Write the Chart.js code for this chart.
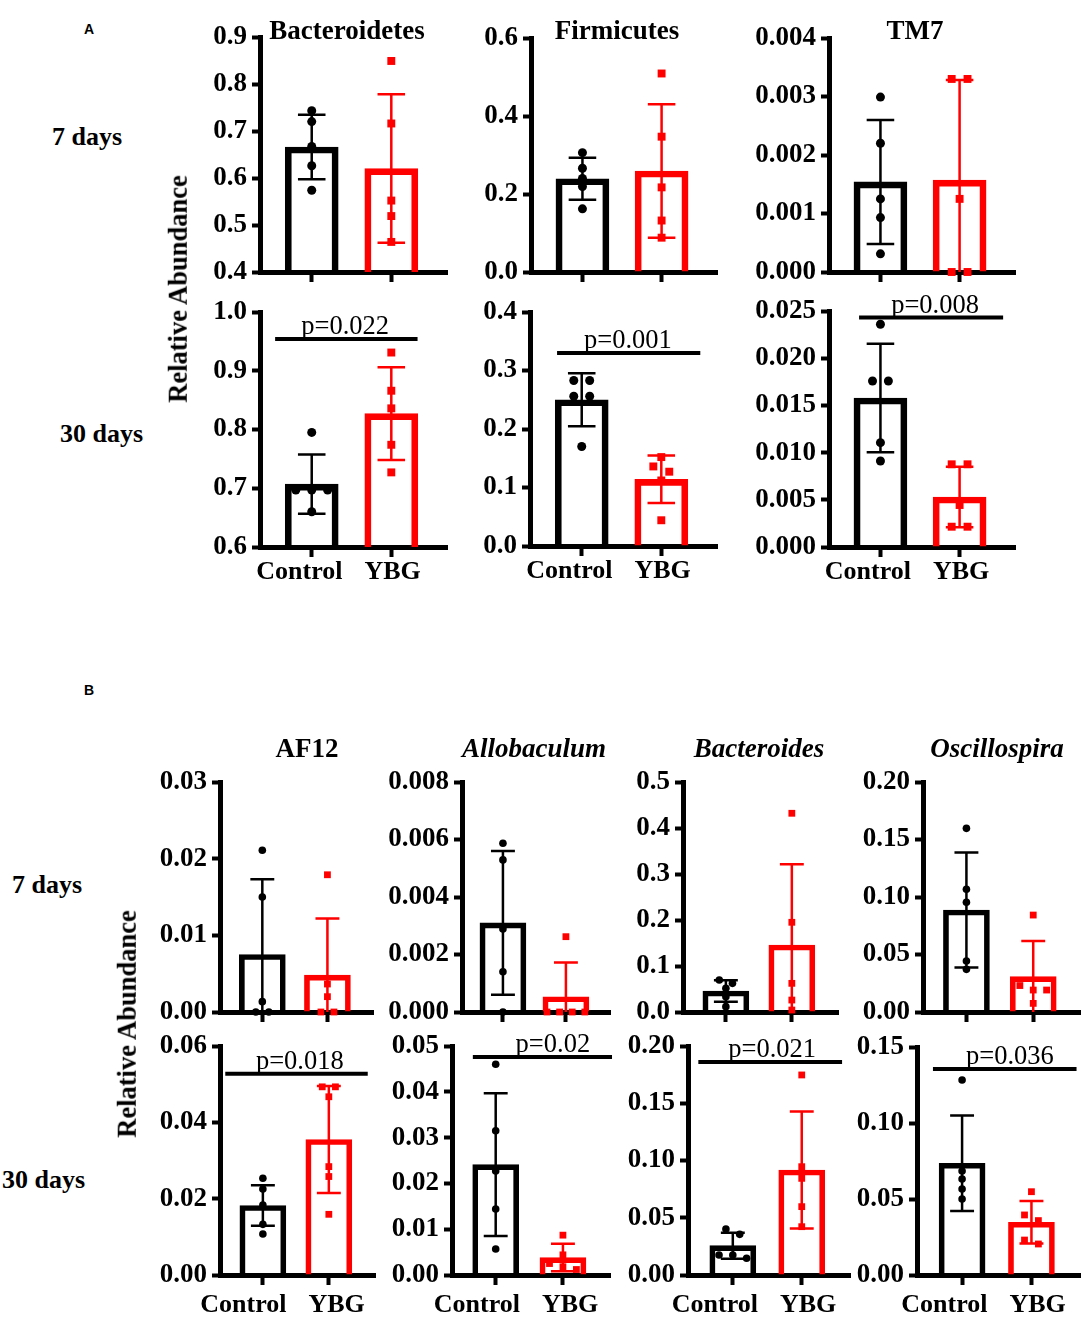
<!DOCTYPE html>
<html lang="en">
<head>
<meta charset="UTF-8">
<title>Relative Abundance</title>
<script src="https://cdn.jsdelivr.net/npm/chart.js"></script>
<style>
    body { margin: 0; background: #fff; }
    #figure {
        position: relative;
        width: 1084px;
        height: 1317px;
        overflow: hidden;
        font-family: 'Liberation Serif', 'Times New Roman', serif;
        color: #000;
    }
    #figure canvas { position: absolute; }
    .lbl {
        position: absolute;
        white-space: nowrap;
        line-height: 1;
        font-weight: bold;
        font-size: 27px;
        transform: translate(-50%, -50%);
    }
    .left { transform: translate(0, -50%); font-size: 26px; }
    .panel { font-family: 'Liberation Sans', Arial, sans-serif; font-size: 14px; }
    .ytitle { transform: translate(-50%, -50%) rotate(-90deg); font-size: 26.5px; }
    .it { font-style: italic; }
</style>
</head>
<body>
<div id="figure">
    <div class="lbl left panel" style="left:84px; top:29px">A</div>
    <div class="lbl left panel" style="left:84px; top:690px">B</div>
</div>

<script>
    // ---- data ----
    const groups = ['Control', 'YBG'];
    const phylumTitles = ['Bacteroidetes', 'Firmicutes', 'TM7'];
    const genusTitles = ['AF12', 'Allobaculum', 'Bacteroides', 'Oscillospira'];
    const rowTitles = ['7 days', '30 days'];
    const yTitle = 'Relative Abundance';

    // panel A, 7 days: [Control, YBG] per phylum
    const phyla7Mean = [[0.666, 0.620], [0.239, 0.259], [0.00154, 0.00157]];
    const phyla7SD = [[0.0685, 0.158], [0.054, 0.171], [0.00106, 0.00171]];
    const phyla7Control = [
        [0.743, 0.720, 0.667, 0.626, 0.574],
        [0.306, 0.266, 0.240, 0.219, 0.162],
        [0.00299, 0.0022, 0.00125, 0.00093, 0.00031]
    ];
    const phyla7YBG = [
        [0.849, 0.716, 0.552, 0.519, 0.464],
        [0.509, 0.347, 0.217, 0.132, 0.088],
        [0.0033, 0.0033, 0.00125, 0, 0]
    ];

    // panel A, 30 days
    const phyla30Mean = [[0.707, 0.827], [0.250, 0.114], [0.01578, 0.0053]];
    const phyla30SD = [[0.0505, 0.079], [0.0455, 0.0405], [0.00574, 0.0032]];
    const phyla30Control = [
        [0.795, 0.697, 0.697, 0.697, 0.660],
        [0.283, 0.283, 0.256, 0.256, 0.170],
        [0.0236, 0.01758, 0.01758, 0.01105, 0.00911]
    ];
    const phyla30YBG = [
        [0.931, 0.866, 0.836, 0.774, 0.727],
        [0.152, 0.136, 0.127, 0.112, 0.044],
        [0.00876, 0.00876, 0.00445, 0.00215, 0.00215]
    ];
    const phyla30P = ['p=0.022', 'p=0.001', 'p=0.008'];

    // panel B, 7 days: [Control, YBG] per genus
    const genera7Mean = [[0.0075, 0.0048], [0.0031, 0.00053], [0.0457, 0.1457], [0.0887, 0.0307]];
    const genera7SD = [[0.0098, 0.0074], [0.0025, 0.00119], [0.0235, 0.1755], [0.050, 0.031]];
    const genera7Control = [
        [0.0211, 0.0150, 0.00135, 0, 0],
        [0.00587, 0.00529, 0.00289, 0.0014, 0],
        [0.0696, 0.0623, 0.0517, 0.0333, 0.0116],
        [0.1597, 0.1067, 0.0954, 0.0443, 0.0371]
    ];
    const genera7YBG = [
        [0.0179, 0.00365, 0.0020, 0, 0],
        [0.00262, 0, 0, 0, 0],
        [0.432, 0.195, 0.0623, 0.026, 0.0043],
        [0.0843, 0.023, 0.0191, 0.0191, 0.0075]
    ];

    // panel B, 30 days
    const genera30Mean = [[0.0182, 0.0355], [0.0241, 0.0038], [0.0256, 0.0917], [0.0735, 0.0347]];
    const genera30SD = [[0.0053, 0.014], [0.0156, 0.003], [0.0114, 0.051], [0.0314, 0.014]];
    const genera30Control = [
        [0.02533, 0.02253, 0.01834, 0.01327, 0.01074],
        [0.046, 0.0315, 0.0227, 0.0144, 0.00568],
        [0.0402, 0.0355, 0.0175, 0.0175, 0.0146],
        [0.1283, 0.0684, 0.0632, 0.0566, 0.05]
    ];
    const genera30YBG = [
        [0.0493, 0.0493, 0.0467, 0.0284, 0.0258, 0.0159],
        [0.0087, 0.0044, 0.0025, 0.0018, 0.0012],
        [0.1747, 0.0946, 0.0844, 0.0597, 0.0422],
        [0.0548, 0.0395, 0.0358, 0.023, 0.0204]
    ];
    const genera30P = ['p=0.018', 'p=0.02', 'p=0.021', 'p=0.036'];

    // y ticks: [min, max, step, decimals]
    const phyla7Ticks = [[0.4, 0.9, 0.1, 1], [0, 0.6, 0.2, 1], [0, 0.004, 0.001, 3]];
    const phyla30Ticks = [[0.6, 1.0, 0.1, 1], [0, 0.4, 0.1, 1], [0, 0.025, 0.005, 3]];
    const genera7Ticks = [[0, 0.03, 0.01, 2], [0, 0.008, 0.002, 3], [0, 0.5, 0.1, 1], [0, 0.20, 0.05, 2]];
    const genera30Ticks = [[0, 0.06, 0.02, 2], [0, 0.05, 0.01, 2], [0, 0.20, 0.05, 2], [0, 0.15, 0.05, 2]];

    // ---- layout (page pixels): [axis left, axis right, top tick, bottom tick] ----
    const phyla7Frames = [[260, 447, 37, 272], [531, 717, 38, 272], [829, 1015, 38, 272]];
    const phyla30Frames = [[260, 447, 312, 547], [530, 717, 312, 546], [829, 1015, 311, 547]];
    const genera7Frames = [[220, 373, 782, 1012], [462, 610, 782, 1012], [683, 838, 782, 1012], [923, 1080, 782, 1012]];
    const genera30Frames = [[220, 375, 1046, 1275], [452, 610, 1046, 1275], [688, 850, 1046, 1275], [917, 1080, 1047, 1275]];
    // significance bar: [level (data units), from, to, text position (x units)]
    const phyla30Sig = [[0.954, -0.46, 1.33, 0.42], [0.330, -0.31, 1.49, 0.58], [0.0243, -0.27, 1.55, 0.69]];
    const genera30Sig = [[0.0527, -0.57, 1.59, 0.56], [0.0476, -0.34, 1.73, 0.85], [0.186, -0.50, 1.585, 0.57], [0.1355, -0.42, 1.65, 0.69]];

    const X_MIN = -0.65, X_MAX = 1.7;
    const YW = 110, XH = 45, PT = 45, PR = 14;
    const SERIF = "'Liberation Serif', 'Times New Roman', serif";
    const fig = document.getElementById('figure');

    Chart.defaults.font.family = SERIF;

    const errorBars = {
        id: 'errorBars',
        afterDatasetDraw(chart, args) {
            const ds = chart.data.datasets[args.index];
            if (!ds.sd) return;
            const y = chart.scales.y;
            const ctx = chart.ctx;
            args.meta.data.forEach((bar, i) => {
                const m = ds.data[i].y, s = ds.sd[i];
                const top = y.getPixelForValue(m + s);
                const low = m - s;
                const bot = y.getPixelForValue(Math.max(low, y.min));
                const cap = ds.barThickness * 0.26;
                ctx.save();
                ctx.strokeStyle = ds.borderColor[i];
                ctx.lineWidth = 2.5;
                ctx.beginPath();
                ctx.moveTo(bar.x, top);
                ctx.lineTo(bar.x, bot);
                ctx.moveTo(bar.x - cap, top);
                ctx.lineTo(bar.x + cap, top);
                if (low > y.min) {
                    ctx.moveTo(bar.x - cap, bot);
                    ctx.lineTo(bar.x + cap, bot);
                }
                ctx.stroke();
                ctx.restore();
            });
        }
    };

    const sigBar = {
        id: 'sigBar',
        afterDraw(chart, args, o) {
            if (!o || !o.text) return;
            const {x, y} = chart.scales;
            const ctx = chart.ctx;
            const py = y.getPixelForValue(o.level);
            ctx.save();
            ctx.strokeStyle = '#000';
            ctx.lineWidth = 4;
            ctx.beginPath();
            ctx.moveTo(x.getPixelForValue(o.from), py);
            ctx.lineTo(x.getPixelForValue(o.to), py);
            ctx.stroke();
            ctx.font = "26.5px " + SERIF;
            ctx.textAlign = 'center';
            ctx.textBaseline = 'alphabetic';
            ctx.fillStyle = '#000';
            ctx.fillText(o.text, x.getPixelForValue(o.textAt), py - 5);
            ctx.restore();
        }
    };

    // group names under the axis, set either side of the plot's middle
    const groupLabels = {
        id: 'groupLabels',
        afterDraw(chart, args, o) {
            if (!o || !o.show) return;
            const area = chart.chartArea;
            const mid = (area.left + area.right) / 2;
            const ctx = chart.ctx;
            ctx.save();
            ctx.font = "bold 26px " + SERIF;
            ctx.fillStyle = '#000';
            ctx.textBaseline = 'alphabetic';
            ctx.textAlign = 'right';
            ctx.fillText(groups[0], mid - o.gap / 2, area.bottom + o.drop);
            ctx.textAlign = 'left';
            ctx.fillText(groups[1], mid + o.gap / 2, area.bottom + o.drop);
            ctx.restore();
        }
    };

    // side-by-side offsets for points that sit at nearly the same height
    function spread(values, tol) {
        const xs = values.map(() => 0);
        const order = values.map((v, i) => i).sort((a, b) => values[b] - values[a]);
        let k = 0;
        while (k < order.length) {
            let j = k + 1;
            while (j < order.length && values[order[k]] - values[order[j]] < tol) j++;
            const n = j - k;
            for (let m = 0; m < n; m++) xs[order[k + m]] = (m - (n - 1) / 2) * 0.2;
            k = j;
        }
        return xs;
    }

    function points(values, g, tol) {
        const xs = spread(values, tol);
        return values.map((v, i) => ({x: g + xs[i], y: v}));
    }

    function addChart(frame, ticks, mean, sd, ctrl, ybg, opt) {
        const [L, R, T, B] = frame;
        const [yMin, yMax, step, dec] = ticks;
        const w = YW + (R - L) + PR, h = PT + (B - T) + XH;
        const canvas = document.createElement('canvas');
        canvas.width = w;
        canvas.height = h;
        canvas.style.left = (L - YW) + 'px';
        canvas.style.top = (T - PT) + 'px';
        canvas.style.width = w + 'px';
        canvas.style.height = h + 'px';
        fig.appendChild(canvas);

        const tol = (yMax - yMin) * 0.03;
        const tickFont = {family: SERIF, weight: 'bold', size: 27};
        const sig = opt.sig ? {level: opt.sig[0], from: opt.sig[1], to: opt.sig[2], textAt: opt.sig[3], text: opt.p} : {};

        new Chart(canvas, {
            type: 'bar',
            data: {
                datasets: [{
                    type: 'scatter',
                    data: points(ctrl, 0, tol),
                    pointStyle: 'circle',
                    pointRadius: opt.dot,
                    backgroundColor: '#000',
                    borderWidth: 0,
                    clip: false,
                    order: 0
                }, {
                    type: 'scatter',
                    data: points(ybg, 1, tol),
                    pointStyle: 'rect',
                    pointRadius: opt.square,
                    backgroundColor: '#ff0000',
                    borderWidth: 0,
                    clip: false,
                    order: 0
                }, {
                    type: 'bar',
                    data: [{x: 0, y: mean[0]}, {x: 1, y: mean[1]}],
                    sd: sd,
                    backgroundColor: 'rgba(0,0,0,0)',
                    borderColor: ['#000', '#ff0000'],
                    borderWidth: opt.border,
                    barThickness: opt.barW,
                    order: 1
                }]
            },
            options: {
                responsive: false,
                animation: false,
                devicePixelRatio: 1,
                events: [],
                layout: {padding: {top: PT, right: PR, left: 0, bottom: 0}},
                plugins: {
                    legend: {display: false},
                    tooltip: {enabled: false},
                    sigBar: sig,
                    groupLabels: {show: opt.labels, gap: 22, drop: opt.drop}
                },
                scales: {
                    x: {
                        type: 'linear',
                        min: X_MIN,
                        max: X_MAX,
                        offset: false,
                        afterBuildTicks: s => { s.ticks = [{value: 0}, {value: 1}]; },
                        afterFit: s => { s.height = XH; },
                        grid: {offset: false, drawOnChartArea: false, drawTicks: true, tickLength: 10, tickWidth: 4, tickColor: '#000'},
                        border: {display: true, color: '#000', width: 5},
                        ticks: {
                            callback: () => '',
                            font: tickFont,
                            maxRotation: 0,
                            autoSkip: false
                        }
                    },
                    y: {
                        min: yMin,
                        max: yMax,
                        afterFit: s => { s.width = YW; },
                        grid: {drawOnChartArea: false, drawTicks: true, tickLength: 8, tickWidth: 4, tickColor: '#000'},
                        border: {display: true, color: '#000', width: 5},
                        ticks: {
                            stepSize: step,
                            callback: v => Number(v).toFixed(dec),
                            font: tickFont,
                            color: '#000',
                            padding: 5
                        }
                    }
                }
            },
            plugins: [errorBars, sigBar, groupLabels]
        });
    }

    function addLabel(text, x, y, cls) {
        const d = document.createElement('div');
        d.className = 'lbl ' + (cls || '');
        d.style.left = x + 'px';
        d.style.top = y + 'px';
        d.textContent = text;
        fig.appendChild(d);
    }

    const sizeA = {barW: 53, border: 6, dot: 4.5, square: 5.6, drop: 32};
    const sizeB = {barW: 46, border: 5, dot: 3.8, square: 4.8, drop: 37};

    phylumTitles.forEach((t, i) => {
        addChart(phyla7Frames[i], phyla7Ticks[i], phyla7Mean[i], phyla7SD[i], phyla7Control[i], phyla7YBG[i],
            Object.assign({labels: false}, sizeA));
        addChart(phyla30Frames[i], phyla30Ticks[i], phyla30Mean[i], phyla30SD[i], phyla30Control[i], phyla30YBG[i],
            Object.assign({labels: true, sig: phyla30Sig[i], p: phyla30P[i]}, sizeA));
    });
    genusTitles.forEach((t, i) => {
        addChart(genera7Frames[i], genera7Ticks[i], genera7Mean[i], genera7SD[i], genera7Control[i], genera7YBG[i],
            Object.assign({labels: false}, sizeB));
        addChart(genera30Frames[i], genera30Ticks[i], genera30Mean[i], genera30SD[i], genera30Control[i], genera30YBG[i],
            Object.assign({labels: true, sig: genera30Sig[i], p: genera30P[i]}, sizeB));
    });

    // titles and row labels
    [347, 617, 915].forEach((x, i) => addLabel(phylumTitles[i], x, 30));
    [307, 534, 759, 997].forEach((x, i) => addLabel(genusTitles[i], x, 748, i > 0 ? 'it' : ''));
    addLabel(rowTitles[0], 52, 137, 'left');
    addLabel(rowTitles[1], 60, 434, 'left');
    addLabel(rowTitles[0], 12, 885, 'left');
    addLabel(rowTitles[1], 2, 1180, 'left');
    addLabel(yTitle, 178, 289, 'ytitle');
    addLabel(yTitle, 127, 1024, 'ytitle');
</script>
</body>
</html>
